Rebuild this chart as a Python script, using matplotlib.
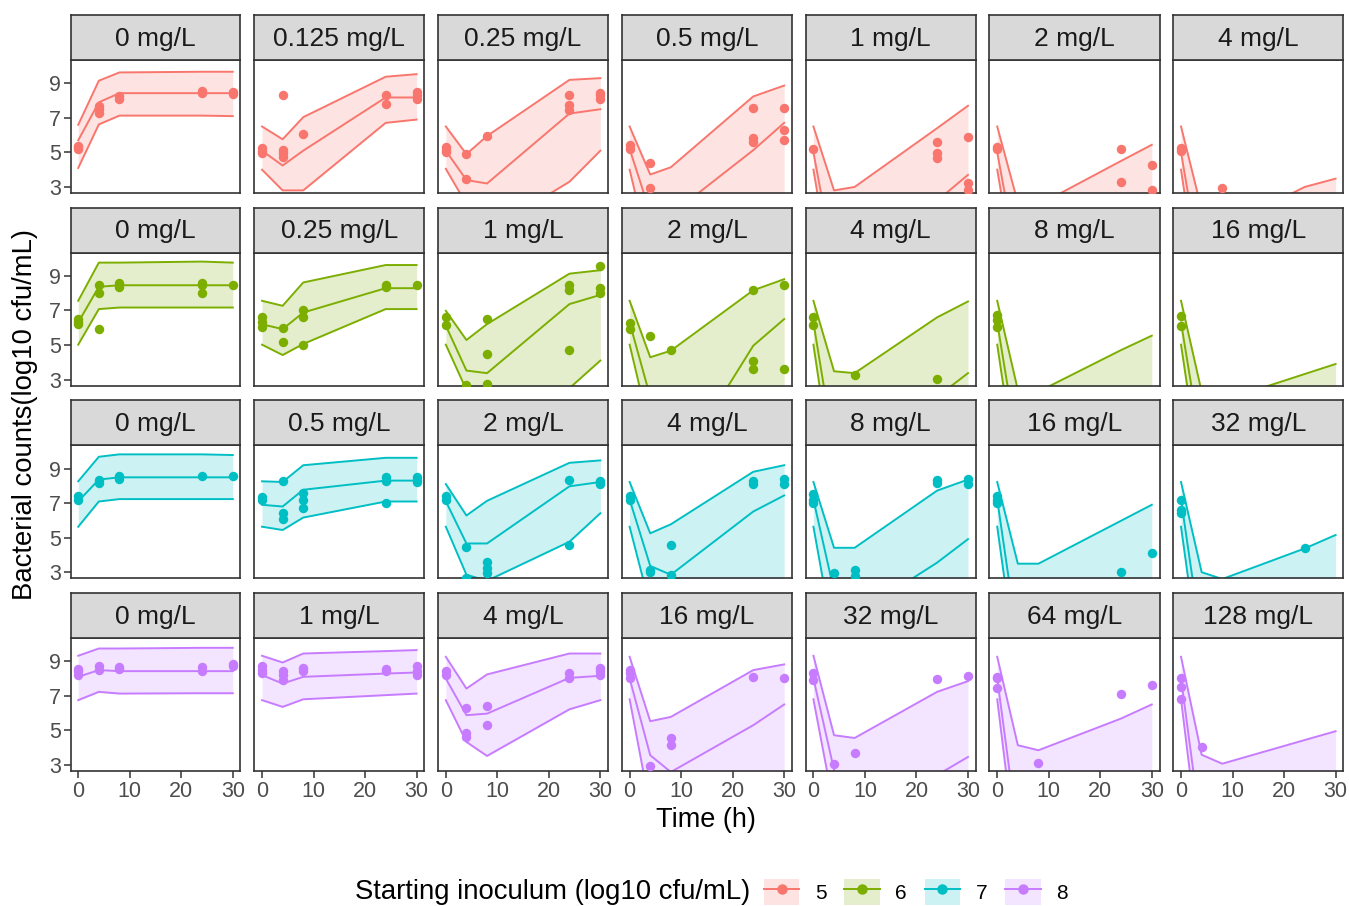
import matplotlib.pyplot as plt
from matplotlib.patches import Patch
from matplotlib.lines import Line2D

plt.rcParams['font.family'] = ['Liberation Sans', 'DejaVu Sans']

# sampling times (h) of the model bands
times = [0, 4, 8, 24, 30]
inocula = ['5', '6', '7', '8']
colors = ['#F8766D', '#7CAE00', '#00BFC4', '#C77CFF']

# concentrations per starting inoculum (one facet row each)
conc_5 = ['0', '0.125', '0.25', '0.5', '1', '2', '4']
conc_6 = ['0', '0.25', '1', '2', '4', '8', '16']
conc_7 = ['0', '0.5', '2', '4', '8', '16', '32']
conc_8 = ['0', '1', '4', '16', '32', '64', '128']

# prediction band: upper / median / lower, values at `times`
upper_5 = [[6.6, 9.15, 9.63, 9.67, 9.67], [6.5, 5.76, 7.04, 9.38, 9.53],
           [6.5, 4.9, 5.95, 9.2, 9.3], [6.5, 3.72, 4.14, 8.24, 8.87],
           [6.5, 2.8, 3.0, 6.4, 7.7], [6.5, 2.1, 1.96, 4.5, 5.44],
           [6.5, 1.7, 0.6, 3.0, 3.48]]
median_5 = [[5.7, 7.9, 8.43, 8.43, 8.43], [5.1, 4.24, 5.1, 8.18, 8.18],
            [5.1, 3.4, 3.2, 7.25, 7.5], [5.2, 1.5, 1.4, 5.13, 6.71],
            [5.0, -1.4, -1.0, 2.2, 3.7], [5.0, -1.5, -3, -1, 0],
            [5.0, -2, -4, -2, -1]]
lower_5 = [[4.1, 6.62, 7.13, 7.13, 7.1], [4.0, 2.8, 2.8, 6.71, 6.9],
           [4.05, 2.0, 0.4, 3.3, 5.1], [4.0, -1, -1.5, 1.5, 2.5],
           [4.0, -3, -4, -2, -1], [4.0, -3, -6, -4, -3],
           [4.0, -4, -7, -5, -4]]

upper_6 = [[7.56, 9.77, 9.77, 9.83, 9.77], [7.56, 7.27, 8.62, 9.63, 9.63],
           [6.98, 5.29, 6.21, 9.13, 9.33], [7.56, 4.29, 4.67, 8.17, 8.81],
           [7.56, 3.48, 3.37, 6.6, 7.52], [7.56, 2.4, 2.3, 4.7, 5.54],
           [7.56, 2.3, 1.77, 3.32, 3.9]]
median_6 = [[6.31, 8.37, 8.46, 8.46, 8.46], [6.2, 5.92, 6.88, 8.29, 8.29],
            [6.12, 3.52, 3.37, 7.37, 7.9], [6.3, 2.0, -2.7, 4.96, 6.5],
            [6.3, -1, -2, 2.0, 3.37], [6.3, -1, -3, -1, 0],
            [6.3, -1, -3, -1, 0]]
lower_6 = [[5.02, 7.08, 7.17, 7.17, 7.17], [5.02, 4.42, 5.06, 7.08, 7.08],
           [5.02, 2.4, 0.5, 2.5, 4.1], [5.02, 0, -4, -1, 0],
           [5.02, -3, -5, -2, -1], [5.02, -3, -6, -4, -3],
           [5.02, -3, -6, -4, -3]]

upper_7 = [[8.26, 9.68, 9.82, 9.82, 9.78], [8.26, 8.22, 9.19, 9.62, 9.62],
           [8.1, 6.28, 7.13, 9.33, 9.47], [8.22, 5.25, 5.77, 8.81, 9.19],
           [8.22, 4.41, 4.41, 7.72, 8.36], [8.22, 3.49, 3.49, 5.97, 6.9],
           [8.22, 3.0, 2.6, 4.37, 5.15]]
median_7 = [[7.1, 8.36, 8.49, 8.49, 8.49], [6.9, 6.8, 7.77, 8.3, 8.3],
            [7.1, 4.66, 4.66, 7.97, 8.22], [7.2, 3.36, 2.85, 6.51, 7.44],
            [7.2, 1.9, 0.5, 3.55, 4.91], [7.2, -1, -3, -1, 0],
            [7.2, -1, -3, -1, 0]]
lower_7 = [[5.63, 7.09, 7.23, 7.23, 7.23], [5.63, 5.44, 6.16, 7.09, 7.09],
           [5.63, 2.85, 2.5, 4.76, 6.41], [5.63, 1.0, -1, 1, 2],
           [5.63, -1, -3, -1, 0], [5.63, -3, -6, -4, -3],
           [5.63, -3, -6, -4, -3]]

upper_8 = [[9.31, 9.73, 9.73, 9.77, 9.77], [9.31, 8.92, 9.44, 9.58, 9.64],
           [9.25, 7.41, 8.23, 9.44, 9.44], [9.25, 5.52, 5.77, 8.48, 8.81],
           [9.31, 4.71, 4.55, 7.22, 7.84], [9.25, 4.13, 3.84, 5.67, 6.49],
           [9.25, 3.58, 3.06, 4.43, 4.94]]
median_8 = [[8.09, 8.48, 8.42, 8.42, 8.42], [8.19, 7.7, 8.09, 8.28, 8.34],
            [7.99, 5.87, 5.96, 8.03, 8.15], [8.0, 3.55, 2.58, 5.29, 6.49],
            [8.0, 2.7, 0, 2.4, 3.45], [8.0, -1, -3, -1, 0],
            [8.0, -1, -3, -1, 0]]
lower_8 = [[6.74, 7.22, 7.12, 7.14, 7.14], [6.74, 6.35, 6.79, 7.03, 7.12],
           [6.74, 4.32, 3.51, 6.21, 6.74], [6.79, 0.5, -1, 1, 2],
           [6.79, 0.5, -2, -1, 0], [6.79, -3, -6, -4, -3],
           [6.79, -3, -6, -4, -3]]

# observed counts (time, log10 cfu/mL) per panel
obs_5 = [
    [(0, 5.2), (0, 5.3), (0, 5.35), (4, 7.3), (4, 7.5), (4, 7.7), (8, 8.1), (8, 8.25),
     (24, 8.45), (24, 8.55), (30, 8.4), (30, 8.5)],
    [(0, 4.95), (0, 5.1), (0, 5.25), (4, 8.35), (4, 4.75), (4, 4.95), (4, 5.15), (8, 6.05),
     (24, 8.35), (24, 7.8), (30, 8.1), (30, 8.3), (30, 8.5)],
    [(0, 5.0), (0, 5.15), (0, 5.3), (4, 4.9), (4, 3.45), (8, 5.95), (24, 8.3), (24, 7.75),
     (24, 7.45), (30, 8.1), (30, 8.3), (30, 8.45)],
    [(0, 5.2), (0, 5.4), (4, 4.4), (4, 2.95), (24, 7.55), (24, 5.85), (24, 5.6),
     (30, 7.55), (30, 6.3), (30, 5.7)],
    [(0, 5.2), (24, 5.6), (24, 4.95), (24, 4.65), (30, 5.9), (30, 3.2), (30, 2.85)],
    [(0, 5.2), (0, 5.3), (24, 5.2), (24, 3.3), (30, 4.3), (30, 2.85)],
    [(0, 5.1), (0, 5.25), (8, 2.95)],
]
obs_6 = [
    [(0, 6.2), (0, 6.35), (0, 6.5), (4, 8.45), (4, 8.0), (4, 5.9), (8, 8.35), (8, 8.6),
     (24, 8.6), (24, 8.45), (24, 8.0), (30, 8.45)],
    [(0, 6.05), (0, 6.35), (0, 6.6), (4, 5.98), (4, 5.2), (8, 7.0), (8, 6.65), (8, 5.02),
     (24, 8.35), (24, 8.5), (30, 8.45)],
    [(0, 6.6), (0, 6.15), (4, 2.7), (8, 6.5), (8, 4.5), (8, 2.75), (24, 8.45), (24, 8.2),
     (24, 4.7), (30, 9.6), (30, 8.3), (30, 8.0)],
    [(0, 6.3), (0, 5.95), (4, 5.5), (8, 4.7), (24, 8.2), (24, 4.1), (24, 3.6),
     (30, 8.5), (30, 3.6)],
    [(0, 6.65), (0, 6.15), (8, 3.25), (24, 3.05)],
    [(0, 6.75), (0, 6.45), (0, 6.05)],
    [(0, 6.7), (0, 6.1)],
]
obs_7 = [
    [(0, 7.2), (0, 7.4), (4, 8.15), (4, 8.35), (8, 8.4), (8, 8.55), (24, 8.55), (30, 8.55)],
    [(0, 7.2), (0, 7.35), (4, 8.3), (4, 6.4), (4, 6.05), (8, 7.6), (8, 7.2), (8, 6.7),
     (24, 8.5), (24, 8.3), (24, 7.0), (30, 8.5), (30, 8.35), (30, 8.2)],
    [(0, 7.2), (0, 7.4), (4, 4.45), (4, 2.65), (8, 3.6), (8, 3.25), (8, 2.95), (24, 4.6),
     (24, 8.35), (30, 8.3), (30, 8.1), (30, 8.2)],
    [(0, 7.4), (0, 7.2), (4, 3.1), (4, 3.0), (8, 4.55), (8, 2.85), (24, 8.3), (24, 8.1),
     (30, 8.4), (30, 8.1)],
    [(0, 7.55), (0, 7.2), (0, 7.0), (4, 2.97), (8, 3.1), (8, 2.75), (24, 8.35), (24, 8.15),
     (30, 8.4), (30, 8.1)],
    [(0, 7.4), (0, 7.2), (0, 7.0), (24, 3.0), (30, 4.1)],
    [(0, 7.2), (0, 6.6), (0, 6.4), (24, 4.4)],
]
obs_8 = [
    [(0, 8.2), (0, 8.4), (0, 8.55), (4, 8.5), (4, 8.7), (8, 8.55), (8, 8.65), (24, 8.4),
     (24, 8.65), (30, 8.7), (30, 8.85)],
    [(0, 8.3), (0, 8.5), (0, 8.7), (4, 7.9), (4, 8.2), (4, 8.45), (8, 8.4), (8, 8.6),
     (24, 8.4), (24, 8.55), (30, 8.2), (30, 8.45), (30, 8.7)],
    [(0, 8.2), (0, 8.45), (4, 6.3), (4, 4.85), (4, 4.6), (8, 6.4), (8, 5.3), (24, 8.0),
     (24, 8.3), (30, 8.2), (30, 8.4), (30, 8.6)],
    [(0, 8.5), (0, 8.3), (0, 8.0), (4, 2.95), (8, 4.55), (8, 4.15), (24, 8.1), (30, 8.0)],
    [(0, 8.3), (0, 7.9), (4, 3.05), (8, 3.7), (24, 7.95), (30, 8.15)],
    [(0, 8.1), (0, 8.0), (0, 7.45), (8, 3.1), (24, 7.1), (30, 7.6)],
    [(0, 8.0), (0, 7.5), (0, 6.8), (4, 4.0)],
]

rows = [(conc_5, upper_5, median_5, lower_5, obs_5),
        (conc_6, upper_6, median_6, lower_6, obs_6),
        (conc_7, upper_7, median_7, lower_7, obs_7),
        (conc_8, upper_8, median_8, lower_8, obs_8)]

W, H = 1349, 906
fig = plt.figure(figsize=(W / 100, H / 100), dpi=100)
frame = '#333333'

for r, (concs, ups, meds, los, obs) in enumerate(rows):
    col = colors[r]
    for c in range(7):
        left = 70.5 + 183.8 * c
        top = 60 + 192.6 * r
        ax = fig.add_axes([left / W, 1 - (top + 133) / H, 170 / W, 133 / H])
        ax.fill_between(times, los[c], ups[c], color=col, alpha=0.2, lw=0)
        for band in (ups[c], meds[c], los[c]):
            ax.plot(times, band, color=col, lw=1.4)
        t, y = zip(*obs[c])
        ax.plot(t, y, 'o', color=col, ms=6.8, mew=0, zorder=4)
        ax.set_xlim(-1.5, 31.5)
        ax.set_ylim(2.65, 10.35)
        ax.set_xticks([0, 10, 20, 30])
        ax.set_yticks([3, 5, 7, 9])
        for s in ax.spines.values():
            s.set_color(frame)
            s.set_linewidth(1.2)
        ax.tick_params(length=5, width=1.1, color=frame, labelsize=15.5,
                       labelcolor='#4D4D4D', pad=2)
        if c > 0:
            ax.tick_params(left=False, labelleft=False)
        if r < 3:
            ax.tick_params(bottom=False, labelbottom=False)

        # facet strip
        sax = fig.add_axes([left / W, 1 - top / H, 170 / W, 45 / H])
        sax.set_facecolor('#D9D9D9')
        sax.set_xticks([])
        sax.set_yticks([])
        for s in sax.spines.values():
            s.set_color(frame)
            s.set_linewidth(1.2)
        sax.text(0.5, 0.47, concs[c] + ' mg/L', ha='center', va='center',
                 fontsize=19, color='#1A1A1A', transform=sax.transAxes)

fig.text(706 / W, 1 - 820 / H, 'Time (h)', ha='center', va='center', fontsize=19.5)
fig.text(25 / W, 1 - 415 / H, 'Bacterial counts(log10 cfu/mL)', rotation=90,
         ha='center', va='center', fontsize=19.8)

fig.text(750 / W, 1 - 892 / H, 'Starting inoculum (log10 cfu/mL)', ha='right',
         va='center', fontsize=19.8)
handles = [(Patch(facecolor=col, alpha=0.2, edgecolor='none'),
            Line2D([], [], color=col, marker='o', ms=6.5, lw=1.4))
           for col in colors]
fig.legend(handles, inocula, loc='center left', bbox_to_anchor=(764 / W, 1 - 892 / H),
           ncol=4, frameon=False, handlelength=1.7, handleheight=1.5,
           columnspacing=0.85, handletextpad=0.75, fontsize=15,
           borderpad=0, borderaxespad=0)

fig.savefig('out.png', dpi=100)
